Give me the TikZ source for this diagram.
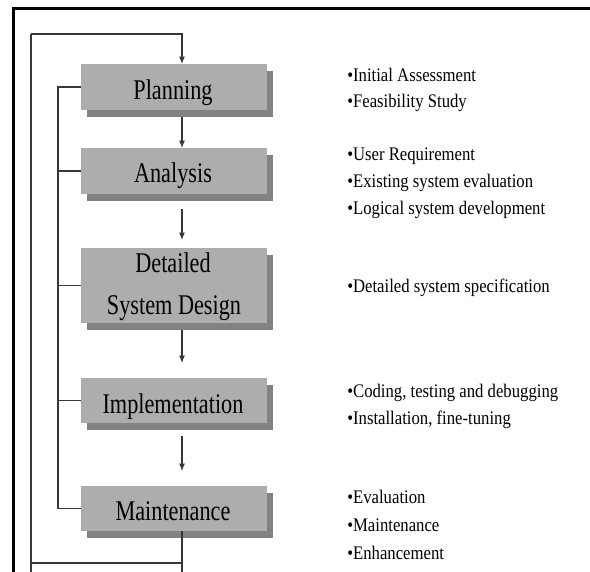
\documentclass[tikz,border=0pt]{standalone}
\usepackage{fontspec}
\newfontfamily\boxfont[FakeStretch=0.78]{Liberation Serif}
\newfontfamily\notefont[FakeStretch=0.87]{Liberation Serif}
\usetikzlibrary{arrows.meta}
\definecolor{boxgray}{RGB}{173,173,173}
\definecolor{shadegray}{RGB}{130,130,130}
\definecolor{linegray}{RGB}{55,55,55}
\begin{document}
\begin{tikzpicture}[x=0.75pt,y=-0.75pt,
  boxstyle/.style={fill=boxgray, draw=none, minimum width=139.5pt, inner sep=0pt, outer sep=0pt},
  shadestyle/.style={fill=shadegray, draw=none, minimum width=139.5pt, inner sep=0pt, outer sep=0pt},
  boxlabel/.style={font=\boxfont\fontsize{21.4}{25}\selectfont, anchor=base, inner sep=0pt},
  note/.style={font=\notefont\fontsize{14.4}{17}\selectfont, anchor=base west, inner sep=0pt},
  conn/.style={draw=linegray, line width=0.9pt},
  arr/.style={conn, -{Latex[length=5.5pt,width=4.5pt]}},
  frame/.style={draw=black, line width=1.8pt}
]
\useasboundingbox (0,0) rectangle (590,572);
\fill[white] (0,0) rectangle (590,572);

% frame
\coordinate (fc) at (13.5,8.5);
\coordinate (fr) at (590,8.5);
\coordinate (fb) at (13.5,572);
\draw[frame] (fr) -- (fc) -- (fb);

% helper coordinates
\coordinate (ax) at (182,0);
\coordinate (il) at (58,0);
\coordinate (ol) at (31,0);
\coordinate (top) at (0,34);
\coordinate (hy) at (0,563);
\coordinate (bot) at (0,572);

% shadows
\node[shadestyle, minimum height=34.5pt] (plans) at (180,94) {};
\node[shadestyle, minimum height=34.5pt] (anals) at (180,178) {};
\node[shadestyle, minimum height=56.25pt] (dets) at (180,292.5) {};
\node[shadestyle, minimum height=33.75pt] (imps) at (180,407.5) {};
\node[shadestyle, minimum height=33.75pt] (mains) at (180,515.5) {};

% boxes
\node[boxstyle, minimum height=34.5pt] (plan) at (174,87) {};
\node[boxstyle, minimum height=34.5pt] (anal) at (174,171) {};
\node[boxstyle, minimum height=56.25pt] (det) at (174,285.5) {};
\node[boxstyle, minimum height=33.75pt] (imp) at (174,400.5) {};
\node[boxstyle, minimum height=33.75pt] (main) at (174,508.5) {};

% box labels
\node[boxlabel] (plant) at (173,99.5) {Planning};
\node[boxlabel] (analt) at (173,182) {Analysis};
\node[boxlabel] (dett1) at (173,272) {Detailed};
\node[boxlabel] (dett2) at (174,314) {System Design};
\node[boxlabel] (impt) at (173,413) {Implementation};
\node[boxlabel] (maint) at (173,520) {Maintenance};

% arrows between phases
\draw[arr] (ol |- top) -- (ax |- top) -- (plan.north -| ax);
\draw[arr] (plans.south -| ax) -- (anal.north -| ax);
\draw[arr, shorten <=6pt, shorten >=6pt] (anals.south -| ax) -- (det.north -| ax);
\draw[arr, shorten >=11.25pt] (dets.south -| ax) -- (imp.north -| ax);
\draw[arr, shorten <=4.5pt, shorten >=11.25pt] (imps.south -| ax) -- (main.north -| ax);

% inner feedback line
\draw[conn] (plan.west) -- (plan.west -| il) -- (main.west -| il) -- (main.west);
\draw[conn] (anal.west) -- (anal.west -| il);
\draw[conn] (det.west) -- (det.west -| il);
\draw[conn] (imp.west) -- (imp.west -| il);

% outer loop
\draw[conn] (main.south -| ax) -- (ax |- bot);
\draw[conn] (ol |- bot) -- (ol |- top);
\draw[conn] (ol |- hy) -- (ax |- hy);

% notes
\node[note] (n1) at (347,81) {•Initial Assessment};
\node[note] (n2) at (347,107) {•Feasibility Study};
\node[note] (n3) at (347,160) {•User Requirement};
\node[note] (n4) at (347,187) {•Existing system evaluation};
\node[note] (n5) at (347,214) {•Logical system development};
\node[note] (n6) at (347,292) {•Detailed system specification};
\node[note] (n7) at (347,397) {•Coding, testing and debugging};
\node[note] (n8) at (347,424) {•Installation, fine-tuning};
\node[note] (n9) at (347,503) {•Evaluation};
\node[note] (n10) at (347,531) {•Maintenance};
\node[note] (n11) at (347,559) {•Enhancement};
\end{tikzpicture}
\end{document}
